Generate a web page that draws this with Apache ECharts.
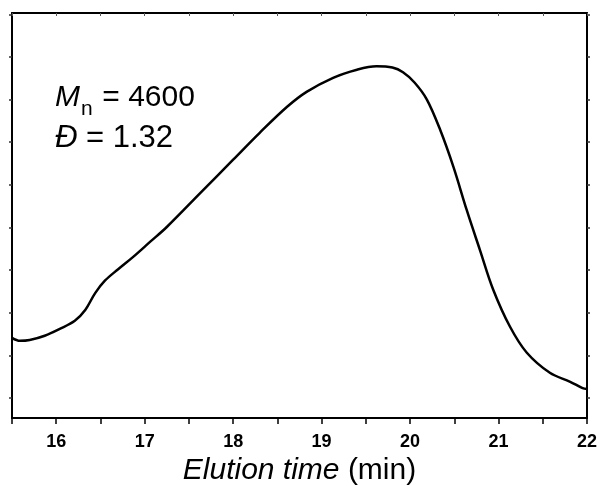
<!DOCTYPE html>
<html>
<head>
<meta charset="utf-8">
<script src="https://cdn.jsdelivr.net/npm/echarts@6/dist/echarts.min.js"></script>
<style>
  html, body { margin: 0; padding: 0; background: #fff; }
  #gpc-chart { width: 600px; height: 486px; }
</style>
</head>
<body>
<div id="gpc-chart"></div>
<script>
// elution time (min) and detector response (arbitrary units)
var elutionTime = [15.50, 15.59, 15.70, 15.87, 16.04, 16.21, 16.33, 16.44, 16.55,
    16.70, 16.87, 17.06, 17.25, 17.63, 18.00, 18.30, 18.61, 18.83, 19.13,
    19.40, 19.62, 19.80, 19.92, 20.05, 20.19, 20.34, 20.49, 20.64, 20.79, 20.94,
    21.13, 21.32, 21.58, 21.81, 21.95, 22.00];
var response = [1.41, 1.34, 1.36, 1.46, 1.62, 1.81, 2.07, 2.46, 2.75,
    3.02, 3.31, 3.66, 4.01, 4.81, 5.59, 6.22, 6.83, 7.18, 7.51,
    7.70, 7.78, 7.75, 7.64, 7.40, 7.00, 6.29, 5.42, 4.41, 3.47, 2.54,
    1.67, 1.06, 0.59, 0.38, 0.23, 0.21];

var xLabelValues = [16, 17, 18, 19, 20, 21, 22];
var xTickValues = [15.5, 16, 16.5, 17, 17.5, 18, 18.5, 19, 19.5, 20, 20.5, 21, 21.5, 22];
var yTickValues = [0, 1, 2, 3, 4, 5, 6, 7, 8, 9];

var mnText = '4600';
var dispText = '1.32';

var myChart = echarts.init(document.getElementById('gpc-chart'));

var lineCol = '#000';
var font = 'Liberation Sans, Arial, sans-serif';
var points = [];
for (var i = 0; i < elutionTime.length; i++) {
    points.push([elutionTime[i], response[i]]);
}

var option = {
    animation: false,
    backgroundColor: '#fff',
    grid: { left: 12, right: 13, top: 13, bottom: 68, containLabel: false, outerBoundsMode: 'none' },
    xAxis: [{
        type: 'value',
        min: 15.5,
        max: 22,
        position: 'bottom',
        axisLine: { onZero: false, lineStyle: { color: lineCol, width: 2 } },
        axisTick: { show: true, length: 6, customValues: xTickValues, lineStyle: { color: lineCol, width: 1.5 } },
        axisLabel: {
            customValues: xLabelValues,
            color: '#000', fontSize: 18, fontWeight: 'bold',
            fontFamily: font, margin: 15
        },
        splitLine: { show: false },
        name: '{i|Elution time} (min)',
        nameLocation: 'middle',
        nameGap: 32,
        nameTextStyle: {
            color: '#000', fontSize: 30, fontFamily: font,
            rich: { i: { fontStyle: 'italic', fontSize: 30, fontFamily: font, color: '#000' } }
        }
    }, {
        type: 'value',
        min: 15.5,
        max: 22,
        position: 'top',
        axisLine: { show: true, onZero: false, lineStyle: { color: lineCol, width: 2 } },
        axisTick: { show: true, inside: true, length: 3, customValues: xTickValues, lineStyle: { color: '#555', width: 1 } },
        axisLabel: { show: false },
        splitLine: { show: false }
    }],
    yAxis: [{
        type: 'value',
        min: -0.47,
        max: 9.03,
        position: 'left',
        axisLine: { show: true, onZero: false, lineStyle: { color: lineCol, width: 2 } },
        axisTick: { show: true, length: 3, customValues: yTickValues, lineStyle: { color: '#333', width: 1.5 } },
        axisLabel: { show: false },
        splitLine: { show: false }
    }, {
        type: 'value',
        min: -0.47,
        max: 9.03,
        position: 'right',
        axisLine: { show: true, onZero: false, lineStyle: { color: lineCol, width: 2 } },
        axisTick: { show: true, length: 3, customValues: yTickValues, lineStyle: { color: '#333', width: 1.5 } },
        axisLabel: { show: false },
        splitLine: { show: false }
    }],
    graphic: [
        { type: 'text', left: 55, top: 83, style: { text: 'M', fontSize: 30, fontStyle: 'italic', fontFamily: font, fill: '#000' } },
        { type: 'text', left: 81, top: 99, style: { text: 'n', fontSize: 21, fontFamily: font, fill: '#000' } },
        { type: 'text', left: 94, top: 83, style: { text: ' = ' + mnText, fontSize: 30, fontFamily: font, fill: '#000' } },
        { type: 'text', left: 55, top: 123, style: {
            text: '{i|Đ} = ' + dispText, fontSize: 31, fontFamily: font, fill: '#000',
            rich: { i: { fontStyle: 'italic', fontSize: 31, fontFamily: font } }
        } }
    ],
    series: [{
        type: 'line',
        xAxisIndex: 0,
        yAxisIndex: 0,
        data: points,
        smooth: 0.35,
        showSymbol: false,
        lineStyle: { color: lineCol, width: 2.5 }
    }]
};

myChart.setOption(option);
</script>
</body>
</html>
